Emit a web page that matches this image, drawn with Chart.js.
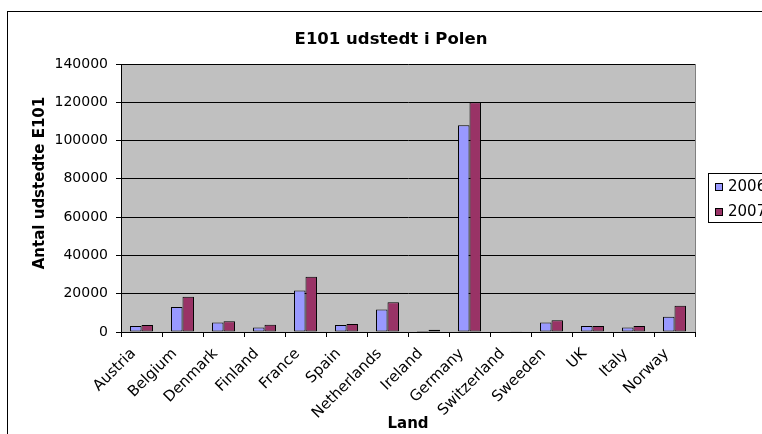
<!DOCTYPE html>
<html>
<head>
<meta charset="utf-8">
<script src="https://cdn.jsdelivr.net/npm/chart.js@4.4.1/dist/chart.umd.min.js"></script>
<style>
  html, body { margin: 0; padding: 0; background: #fff; overflow: hidden; }
  #wrap { position: relative; width: 762px; height: 434px; overflow: hidden; }
  #frame { position: absolute; left: 7px; top: 11px; width: 900px; height: 600px; border: 1px solid #000; }
  canvas { position: absolute; left: 0; top: 0; }
</style>
</head>
<body>
<div id="wrap">
  <div id="frame"></div>
  <canvas id="chart" width="762" height="434"></canvas>
</div>
<script>
// data
const countries = ["Austria", "Belgium", "Denmark", "Finland", "France", "Spain", "Netherlands",
  "Ireland", "Germany", "Switzerland", "Sweeden", "UK", "Italy", "Norway"];
const seriesNames = ["2006", "2007"];
const values2006 = [3100, 13000, 4900, 2300, 21700, 3600, 11800, 500, 108000, 200, 4900, 3100, 2300, 8000];
const values2007 = [3600, 18400, 5600, 3800, 28800, 4200, 15600, 1200, 120000, 400, 6100, 3100, 3100, 13700];
const yTicks = [0, 20000, 40000, 60000, 80000, 100000, 120000, 140000];

const chartTitle = "E101 udstedt i Polen";
const yTitle = "Antal udstedte E101";
const xTitle = "Land";

const colors = ["#9999FF", "#993366"];
const FONT = "'DejaVu Sans', sans-serif";

// excel style: gray plot area, title, rotated y title and the legend box
const excelLook = {
  id: "excelLook",
  beforeDraw(chart) {
    const { ctx, chartArea: a } = chart;
    ctx.save();
    ctx.fillStyle = "#C0C0C0";
    ctx.fillRect(a.left, a.top, a.right - a.left, a.bottom - a.top);
    ctx.restore();
  },
  afterDraw(chart) {
    const { ctx, chartArea: a } = chart;
    ctx.save();
    // right edge of plot area
    ctx.strokeStyle = "#808080";
    ctx.lineWidth = 1;
    ctx.beginPath();
    ctx.moveTo(Math.round(a.right) + 0.5, a.top);
    ctx.lineTo(Math.round(a.right) + 0.5, a.bottom);
    ctx.stroke();

    // chart title
    ctx.fillStyle = "#000";
    ctx.font = "bold 16.5px " + FONT;
    ctx.textAlign = "center";
    ctx.textBaseline = "middle";
    ctx.fillText(chartTitle, 391, 40);

    // y axis title
    ctx.save();
    ctx.translate(40, 183);
    ctx.rotate(-Math.PI / 2);
    ctx.font = "bold 15px " + FONT;
    ctx.fillText(yTitle, 0, 0);
    ctx.restore();

    // legend
    const lx = a.right + 13;
    ctx.strokeStyle = "#000";
    ctx.strokeRect(lx + 0.5, 173.5, 120, 49);
    ctx.font = "15px " + FONT;
    ctx.textAlign = "left";
    chart.data.datasets.forEach((ds, i) => {
      const y = 183 + i * 25;
      ctx.fillStyle = ds.backgroundColor;
      ctx.fillRect(lx + 7, y, 7, 7);
      ctx.strokeRect(lx + 7.5, y + 0.5, 7, 7);
      ctx.fillStyle = "#000";
      ctx.fillText(ds.label, lx + 20, y + 4);
    });
    ctx.restore();
  }
};

new Chart(document.getElementById("chart"), {
  type: "bar",
  data: {
    labels: countries,
    datasets: [
      { label: seriesNames[0], data: values2006, backgroundColor: colors[0] },
      { label: seriesNames[1], data: values2007, backgroundColor: colors[1] }
    ]
  },
  options: {
    responsive: false,
    animation: false,
    devicePixelRatio: 1,
    layout: { padding: { left: 0, right: 67, top: 64, bottom: 0 } },
    datasets: {
      bar: {
        borderColor: "#000",
        borderWidth: 1,
        borderSkipped: false,
        barPercentage: 1,
        categoryPercentage: 0.56
      }
    },
    plugins: {
      legend: { display: false },
      title: { display: false },
      tooltip: { enabled: false }
    },
    scales: {
      x: {
        grid: { drawOnChartArea: false, color: "#000", tickLength: 5, offset: true },
        border: { color: "#000" },
        ticks: {
          color: "#000",
          font: { family: FONT, size: 15 },
          minRotation: 45,
          maxRotation: 45,
          padding: 8,
          labelOffset: -8,
          autoSkip: false
        },
        title: {
          display: true,
          text: xTitle,
          color: "#000",
          font: { family: FONT, size: 15, weight: "bold" },
          padding: { top: 0, bottom: 1 }
        },
        afterFit(scale) { scale.height = 102; }
      },
      y: {
        min: yTicks[0],
        max: yTicks[yTicks.length - 1],
        afterBuildTicks(scale) { scale.ticks = yTicks.map(v => ({ value: v })); },
        grid: { color: "#000", tickLength: 5 },
        border: { color: "#000" },
        ticks: {
          color: "#000",
          font: { family: FONT, size: 14 },
          padding: 8,
          callback: v => String(v)
        },
        afterFit(scale) { scale.width = 121; }
      }
    }
  },
  plugins: [excelLook]
});
</script>
</body>
</html>
